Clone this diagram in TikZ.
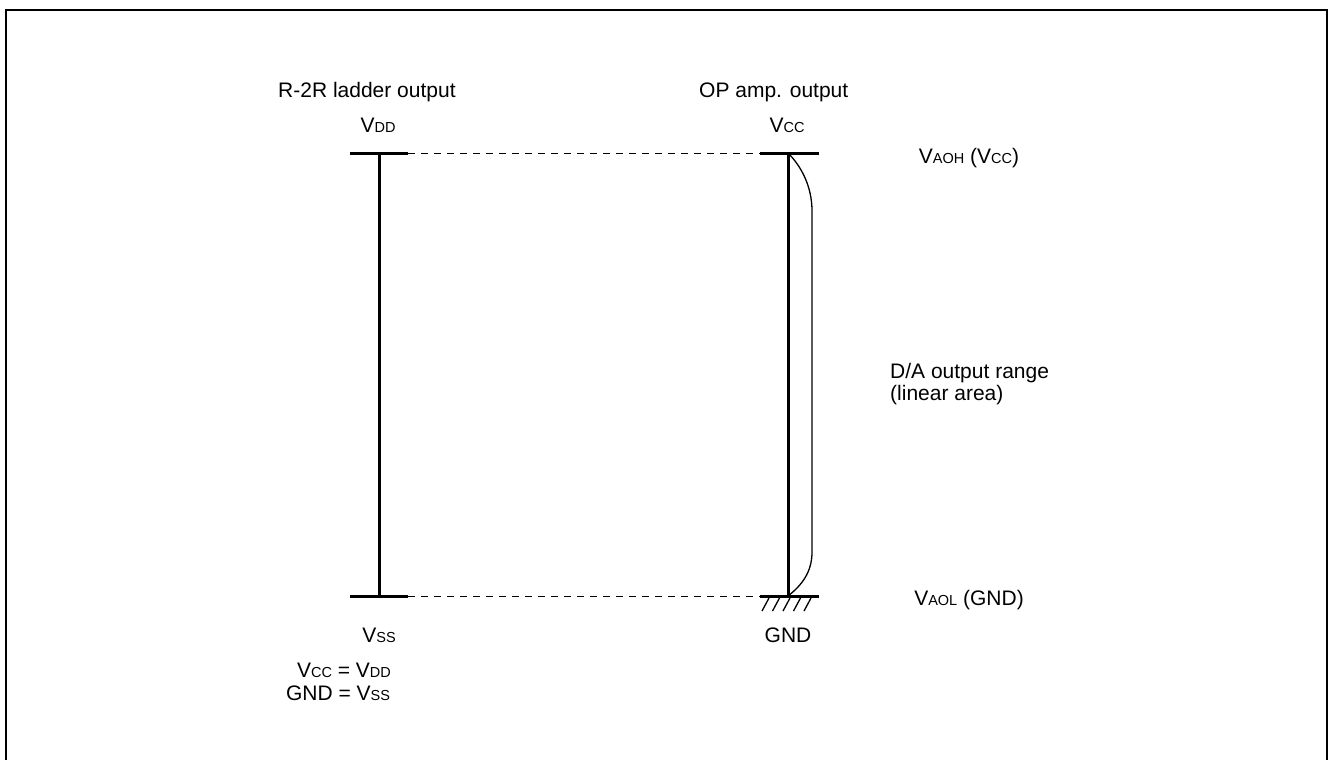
\documentclass[tikz,border=0pt]{standalone}
\usepackage{fontspec}
\setmainfont{Liberation Sans}
\newcommand{\sm}[1]{{\fontsize{14.5bp}{16bp}\selectfont #1}}
\begin{document}
\begin{tikzpicture}[x=1bp,y=-1bp,
  every node/.style={inner sep=0pt,font=\fontsize{21bp}{22bp}\selectfont},
  heavy/.style={line width=3bp},
  guide/.style={line width=1bp,dash pattern=on 7bp off 6bp},
  thin/.style={line width=1.3bp},
  frame/.style={line width=2bp}]
\useasboundingbox (0,0) rectangle (1328,759);
% frame (open at the bottom)
\draw[frame] (6,770) -- (6,10.5) -- (1327,10.5) -- (1327,770);
% key points
\coordinate (LT) at (379,153);
\coordinate (LB) at (379,596);
\coordinate (RT) at (788,153);
\coordinate (RB) at (788,596);
\coordinate (LTr) at (408,153);
\coordinate (LBr) at (408,596);
\coordinate (RTl) at (760,153);
\coordinate (RBl) at (760,596);
% left column
\draw[heavy] (350,153) -- (LTr);
\draw[heavy] (350,596) -- (LBr);
\draw[heavy] (LT) -- (LB);
% right column
\draw[heavy] (RTl) -- (819,153);
\draw[heavy] (RBl) -- (819,596);
\draw[heavy] (RT) -- (RB);
% dashed guides
\draw[guide] (LTr) -- (RTl);
\draw[guide] (LBr) -- (RBl);
% output range curve
\draw[thin] (RT) .. controls (801,166) and (812,186) .. (812,211) -- (812,552)
  .. controls (812,572) and (802,585) .. (RB);
% ground hatch
\foreach \k in {0,...,4}{
  \draw[thin] (762+10.5*\k,611) -- (769+10.5*\k,598);
}
% texts
\node[anchor=base west] (t1) at (278,97) {R-2R ladder output};
\node[anchor=base west] (t2) at (699,97) {OP amp. output};
\node[anchor=base] (vdd) at (378,132) {V\sm{DD}};
\node[anchor=base] (vcc) at (787,132) {V\sm{CC}};
\node[anchor=base] (vaoh) at (969,163) {V\sm{AOH} (V\sm{CC})};
\node[anchor=base west,align=left] (da) at (890,400) {D/A output range\\(linear area)};
\node[anchor=base] (vaol) at (969,605) {V\sm{AOL} (GND)};
\node[anchor=base] (vss) at (379,642) {V\sm{SS}};
\node[anchor=base] (gnd) at (788,642) {GND};
\node[anchor=base] (eq1) at (344,677) {V\sm{CC} = V\sm{DD}};
\node[anchor=base] (eq2) at (338,700) {GND = V\sm{SS}};
\end{tikzpicture}
\end{document}
